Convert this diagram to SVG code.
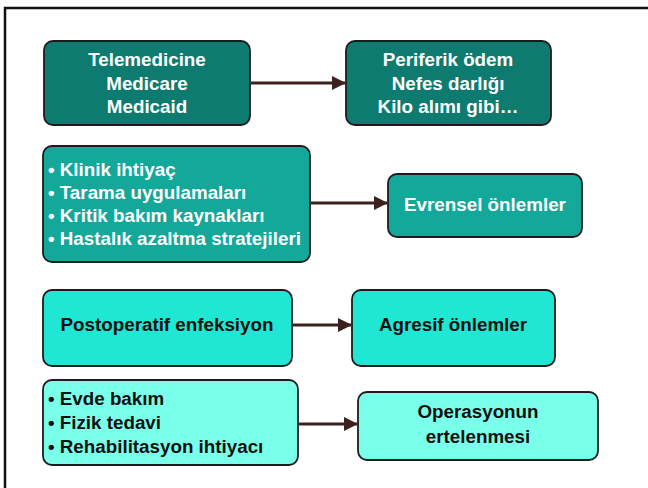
<svg xmlns="http://www.w3.org/2000/svg" width="648" height="488" viewBox="0 0 648 488">
<defs>
<marker id="ah" markerWidth="14" markerHeight="14" refX="13" refY="7" orient="auto" markerUnits="userSpaceOnUse">
<path d="M0,0 L14,7 L0,14 Z" fill="#3b221e"/>
</marker>
</defs>
<style>
.box{stroke:#1c1c1c;stroke-width:1.8}
.c1{fill:#0e7b70}
.c2{fill:#13a899}
.c3{fill:#1fe7d3}
.c4{fill:#7affea}
text{font-family:"Liberation Sans",Arial,sans-serif;font-weight:bold;font-size:18.8px}
.w{fill:#ffffff}
.k{fill:#111111}
.m{text-anchor:middle}
.conn{stroke:#3b221e;stroke-width:2.8;fill:none}
</style>
<rect width="648" height="488" fill="#ffffff"/>
<path d="M5,488 V8 H648" fill="none" stroke="#111" stroke-width="2.5"/>
<g id="n1">
<rect class="box c1" x="44" y="41" width="206" height="84" rx="9"/>
<text class="w m" x="147" y="66">Telemedicine</text>
<text class="w m" x="147" y="90">Medicare</text>
<text class="w m" x="147" y="113">Medicaid</text>
</g>
<g id="n2">
<rect class="box c1" x="346" y="41" width="205" height="84" rx="9"/>
<text class="w m" x="448" y="66">Periferik ödem</text>
<text class="w m" x="448" y="90">Nefes darlığı</text>
<text class="w m" x="448" y="113">Kilo alımı gibi…</text>
</g>
<g id="n3">
<rect class="box c2" x="43" y="146" width="267" height="116" rx="9"/>
<text class="w" x="48" y="176">• Klinik ihtiyaç</text>
<text class="w" x="48" y="199">• Tarama uygulamaları</text>
<text class="w" x="48" y="222">• Kritik bakım kaynakları</text>
<text class="w" x="48" y="245">• Hastalık azaltma stratejileri</text>
</g>
<g id="n4">
<rect class="box c2" x="388" y="174" width="194" height="63" rx="9"/>
<text class="w m" x="485" y="211">Evrensel önlemler</text>
</g>
<g id="n5">
<rect class="box c3" x="43" y="290" width="249" height="76" rx="9"/>
<text class="k m" x="167" y="331">Postoperatif enfeksiyon</text>
</g>
<g id="n6">
<rect class="box c3" x="352" y="290" width="203" height="76" rx="9"/>
<text class="k m" x="453" y="331">Agresif önlemler</text>
</g>
<g id="n7">
<rect class="box c4" x="43" y="380" width="255" height="85" rx="9"/>
<text class="k" x="48" y="405">•  Evde bakım</text>
<text class="k" x="48" y="429">•  Fizik tedavi</text>
<text class="k" x="48" y="453">•  Rehabilitasyon ihtiyacı</text>
</g>
<g id="n8">
<rect class="box c4" x="358" y="392" width="240" height="68" rx="9"/>
<text class="k m" x="478" y="418">Operasyonun</text>
<text class="k m" x="478" y="443">ertelenmesi</text>
</g>
<g id="connectors">
<line class="conn" x1="251" y1="83" x2="345" y2="83" marker-end="url(#ah)"/>
<line class="conn" x1="311" y1="203" x2="387" y2="203" marker-end="url(#ah)"/>
<line class="conn" x1="293" y1="325" x2="351" y2="325" marker-end="url(#ah)"/>
<line class="conn" x1="299" y1="424" x2="357" y2="424" marker-end="url(#ah)"/>
</g>
</svg>
